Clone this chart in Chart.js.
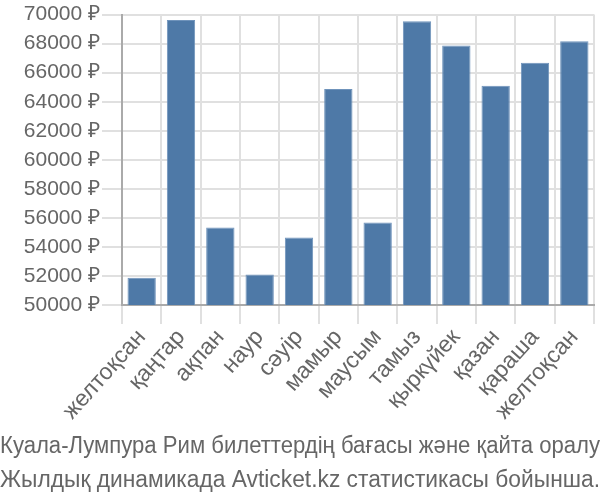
<!DOCTYPE html>
<html>
<head>
<meta charset="utf-8">
<script src="https://cdn.jsdelivr.net/npm/chart.js@4/dist/chart.umd.min.js"></script>
<style>
html,body{margin:0;padding:0;background:#fff;}
#wrap{width:600px;height:500px;}
</style>
</head>
<body>
<div id="wrap"><canvas id="c" width="600" height="500"></canvas></div>
<script>
const categories = ["желтоқсан","қаңтар","ақпан","наур","сәуір","мамыр","маусым","тамыз","қыркүйек","қазан","қараша","желтоқсан"];
const prices = [51880, 69630, 55340, 52100, 54660, 64880, 55690, 69540, 67880, 65100, 66690, 68160];
const yMin = 50000;
const yMax = 70000;
const yStep = 2000;
const currency = "₽";
const titleLines = ["Куала-Лумпура Рим билеттердің бағасы және қайта оралу", "Жылдық динамикада Avticket.kz статистикасы бойынша."];

new Chart(document.getElementById('c'), {
  type: 'bar',
  data: {
    labels: categories,
    datasets: [{
      data: prices,
      backgroundColor: '#4e79a7',
      borderColor: '#6f93bb',
      borderWidth: 1
    }]
  },
  options: {
    responsive: false,
    animation: false,
    layout: { padding: { left: 0, right: 0, top: -2, bottom: 2 } },
    plugins: {
      legend: { display: false },
      tooltip: { enabled: false },
      title: {
        display: true,
        position: 'bottom',
        fullSize: true,
        text: titleLines,
        color: '#666',
        font: { family: '"Liberation Sans", Arial, sans-serif', size: 23, weight: 'normal', lineHeight: 1.5 },
        padding: { top: 4, bottom: 0 }
      }
    },
    scales: {
      x: {
        grid: { color: '#e0e0e0', lineWidth: 2, tickLength: 19, offset: true },
        border: { color: '#aaa', width: 2 },
        ticks: {
          color: '#666',
          font: { family: '"Liberation Sans", Arial, sans-serif', size: 23 },
          maxRotation: 48, minRotation: 48,
          autoSkip: false,
          padding: 0
        }
      },
      y: {
        min: yMin, max: yMax,
        grid: { color: '#e0e0e0', lineWidth: 2, tickLength: 20 },
        border: { color: '#aaa', width: 2 },
        afterFit: s => { s.width = 122; },
        ticks: {
          stepSize: yStep,
          autoSkip: false,
          color: '#666',
          font: { family: '"Liberation Sans", Arial, sans-serif', size: 21 },
          padding: 2,
          callback: v => v + ' ' + currency
        }
      },
      yRight: {
        position: 'right',
        display: true,
        grid: { display: false, drawTicks: false },
        border: { display: false },
        ticks: { display: false },
        afterFit: s => { s.width = 6; }
      }
    }
  }
});
</script>
</body>
</html>
